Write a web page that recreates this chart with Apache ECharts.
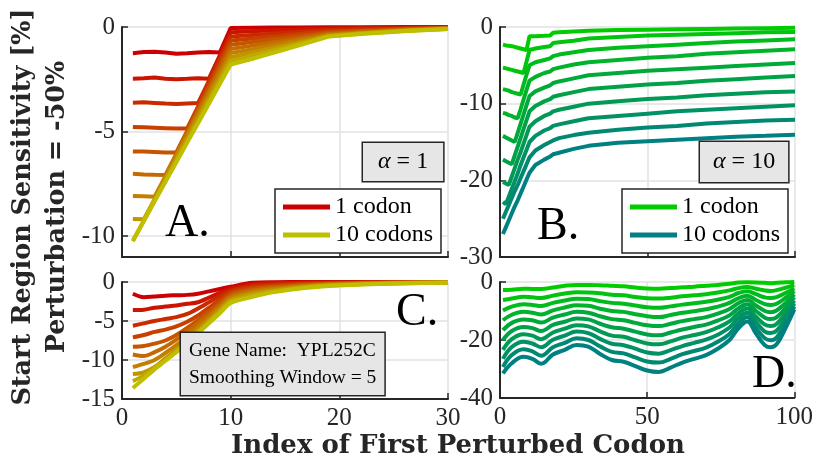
<!DOCTYPE html>
<html>
<head>
<meta charset="utf-8">
<script src="https://cdn.jsdelivr.net/npm/echarts@6/dist/echarts.min.js"></script>
<style>
  html, body { margin: 0; padding: 0; background: #fff; }
  #chart { width: 816px; height: 460px; }
</style>
</head>
<body>
<div id="chart"></div>
<script>
// panel A: alpha = 1, perturbation window of 1..10 codons
const codonsA = [1, 2, 3, 4, 5, 6, 7, 8, 9, 10, 12, 14, 16, 19, 22, 26, 30];
const sensA = [
  [-1.25, -1.2, -1.18, -1.22, -1.28, -1.26, -1.22, -1.2, -1.22, -0.05, -0.03, -0.02, -0.02, -0.01, -0.01, 0, 0],
  [-2.47, -2.45, -2.42, -2.47, -2.5, -2.48, -2.45, -2.47, -1.36, -0.25, -0.2, -0.16, -0.12, -0.07, -0.05, -0.03, -0.02],
  [-3.62, -3.6, -3.63, -3.66, -3.68, -3.66, -3.64, -2.58, -1.51, -0.45, -0.38, -0.31, -0.24, -0.14, -0.1, -0.06, -0.03],
  [-4.78, -4.8, -4.82, -4.84, -4.86, -4.85, -3.8, -2.75, -1.7, -0.65, -0.55, -0.45, -0.35, -0.21, -0.15, -0.09, -0.04],
  [-5.95, -5.96, -5.98, -6.0, -6.0, -4.97, -3.94, -2.91, -1.88, -0.85, -0.72, -0.59, -0.46, -0.27, -0.19, -0.11, -0.05],
  [-7.02, -7.05, -7.07, -7.08, -6.07, -5.07, -4.06, -3.06, -2.05, -1.05, -0.89, -0.73, -0.57, -0.33, -0.23, -0.13, -0.06],
  [-8.08, -8.1, -8.12, -7.14, -6.16, -5.18, -4.2, -3.21, -2.23, -1.25, -1.06, -0.86, -0.67, -0.38, -0.27, -0.15, -0.07],
  [-9.18, -9.2, -8.23, -7.26, -6.29, -5.33, -4.36, -3.39, -2.42, -1.45, -1.22, -0.99, -0.77, -0.42, -0.3, -0.17, -0.08],
  [-10.25, -9.29, -8.33, -7.37, -6.41, -5.46, -4.5, -3.54, -2.58, -1.62, -1.37, -1.1, -0.85, -0.44, -0.31, -0.18, -0.09],
  [-10.2, -9.27, -8.33, -7.4, -6.47, -5.53, -4.6, -3.67, -2.73, -1.8, -1.52, -1.22, -0.92, -0.46, -0.33, -0.2, -0.1]
];

// panel B: alpha = 10
const codonsB = [1, 2, 3, 4, 5, 6, 7, 8, 9, 10, 12, 15, 17, 18, 20, 25, 30, 40, 50, 60, 70, 80, 90, 100];
const sensB = [
  [-2.3, -2.4, -2.45, -2.5, -2.6, -2.7, -2.8, -2.9, -3.0, -1.2, -1.2, -1.15, -1.1, -0.75, -0.7, -0.6, -0.5, -0.4, -0.35, -0.3, -0.25, -0.2, -0.15, -0.1],
  [-5.3, -5.4, -5.5, -5.6, -5.7, -5.8, -5.9, -6.0, -4.5, -3.0, -2.8, -2.6, -2.5, -2.1, -2.0, -1.8, -1.5, -1.3, -1.1, -1.0, -0.9, -0.8, -0.7, -0.65],
  [-8.1, -8.2, -8.3, -8.5, -8.6, -8.7, -8.8, -7.5, -6.2, -5.0, -4.6, -4.3, -4.1, -3.8, -3.6, -3.3, -3.0, -2.7, -2.5, -2.3, -2.1, -1.9, -1.75, -1.6],
  [-11.2, -11.3, -11.5, -11.6, -11.8, -11.9, -10.7, -9.45, -8.2, -7.0, -6.5, -6.0, -5.8, -5.5, -5.3, -4.9, -4.6, -4.3, -4.0, -3.8, -3.5, -3.3, -3.1, -2.9],
  [-14.2, -14.4, -14.6, -14.8, -15.0, -13.8, -12.6, -11.4, -10.2, -9.0, -8.4, -7.9, -7.6, -7.3, -7.1, -6.7, -6.3, -6.0, -5.7, -5.5, -5.3, -5.1, -4.9, -4.7],
  [-17.3, -17.5, -17.7, -17.9, -16.75, -15.6, -14.45, -13.3, -12.15, -11.0, -10.3, -9.7, -9.4, -9.1, -8.9, -8.5, -8.1, -7.8, -7.5, -7.3, -7.0, -6.8, -6.6, -6.4],
  [-20.2, -20.4, -20.6, -19.5, -18.4, -17.3, -16.3, -15.2, -14.1, -13.0, -12.3, -11.6, -11.3, -11.0, -10.8, -10.4, -10.0, -9.7, -9.4, -9.2, -8.9, -8.7, -8.5, -8.4],
  [-22.8, -23.1, -22.1, -21.1, -20.1, -19.1, -18.0, -17.0, -16.0, -15.0, -14.2, -13.5, -13.2, -12.9, -12.7, -12.3, -11.9, -11.6, -11.3, -11.0, -10.8, -10.6, -10.4, -10.2],
  [-25.0, -24.1, -23.2, -22.3, -21.4, -20.6, -19.7, -18.8, -17.9, -17.0, -16.1, -15.4, -15.0, -14.8, -14.5, -14.1, -13.8, -13.4, -13.1, -12.9, -12.6, -12.4, -12.2, -12.1],
  [-27.0, -26.1, -25.2, -24.3, -23.4, -22.6, -21.7, -20.8, -19.9, -19.0, -18.0, -17.3, -16.9, -16.6, -16.4, -15.9, -15.5, -15.1, -14.9, -14.7, -14.5, -14.3, -14.2, -14.05]
];

// panel C: gene YPL252C, smoothing window 5, alpha = 1
const codonsC = [1, 2, 3, 4, 5, 6, 7, 8, 9, 10, 12, 14, 17, 20, 25, 30];
const sensC = [
  [-1.5, -1.95, -1.85, -1.75, -1.7, -1.65, -1.5, -1.2, -0.9, -0.6, -0.1, -0.02, 0, 0, 0, 0],
  [-3.6, -3.55, -3.3, -3.15, -3.0, -2.8, -2.6, -2.0, -1.4, -0.85, -0.3, -0.16, -0.08, -0.05, -0.02, -0.01],
  [-5.6, -5.3, -5.0, -4.75, -4.5, -4.1, -3.4, -2.6, -1.8, -1.1, -0.5, -0.3, -0.17, -0.1, -0.04, -0.02],
  [-7.1, -6.8, -6.4, -6.1, -5.7, -5.1, -4.3, -3.3, -2.3, -1.35, -0.7, -0.45, -0.25, -0.15, -0.07, -0.03],
  [-8.3, -8.2, -7.9, -7.5, -6.8, -5.9, -4.9, -3.8, -2.7, -1.6, -0.9, -0.6, -0.33, -0.2, -0.09, -0.04],
  [-9.3, -9.5, -9.0, -8.3, -7.4, -6.4, -5.3, -4.2, -3.0, -1.85, -1.1, -0.75, -0.42, -0.25, -0.11, -0.05],
  [-10.9, -10.5, -10.0, -9.1, -8.1, -7.0, -5.8, -4.6, -3.3, -2.1, -1.3, -0.9, -0.5, -0.3, -0.13, -0.06],
  [-11.8, -11.6, -10.9, -9.8, -8.7, -7.5, -6.2, -4.9, -3.6, -2.3, -1.5, -1.05, -0.58, -0.35, -0.15, -0.07],
  [-12.7, -12.0, -11.0, -10.0, -8.9, -7.7, -6.4, -5.1, -3.8, -2.5, -1.7, -1.18, -0.67, -0.4, -0.18, -0.08],
  [-13.6, -12.4, -11.2, -10.1, -9.0, -7.9, -6.6, -5.3, -4.0, -2.7, -1.9, -1.3, -0.75, -0.45, -0.2, -0.1]
];

// panel D: gene YPL252C, smoothing window 5, alpha = 10
const codonsD = [1, 4, 8, 11, 14, 18, 22, 26, 30, 34, 38, 42, 46, 50, 54, 58, 62, 66, 70, 74, 78, 81, 84, 87, 90, 92, 94, 97, 100];
const sensD = [
  [-2.8, -2.7, -2.3, -2.4, -2.4, -1.9, -1.3, -1.0, -1.0, -1.1, -1.3, -1.5, -1.9, -2.2, -2.3, -2.1, -1.8, -1.6, -1.3, -1.0, -0.6, -0.2, -0.1, -0.15, -0.3, -0.4, -0.3, -0.1, 0],
  [-6.2, -5.7, -5.1, -5.3, -5.5, -4.7, -4.0, -3.5, -3.6, -3.9, -4.4, -4.6, -5.2, -5.6, -5.7, -5.4, -4.9, -4.6, -4.2, -3.6, -2.9, -2.1, -1.7, -2.3, -2.9, -3.1, -2.8, -2.0, -1.1],
  [-9.8, -8.5, -7.7, -7.9, -8.3, -7.2, -6.4, -5.8, -5.9, -6.6, -7.2, -7.5, -8.1, -8.7, -8.9, -8.4, -7.8, -7.3, -6.8, -6.1, -5.1, -3.8, -3.2, -4.2, -5.3, -5.5, -5.2, -3.8, -2.2],
  [-13.2, -11.3, -10.3, -10.6, -11.2, -9.8, -8.8, -8.0, -8.2, -9.2, -10.0, -10.3, -11.1, -11.8, -12.1, -11.4, -10.6, -10.1, -9.4, -8.5, -7.2, -5.6, -4.7, -6.2, -7.6, -7.9, -7.5, -5.5, -3.2],
  [-16.6, -14.1, -12.9, -13.2, -14.0, -12.3, -11.2, -10.3, -10.6, -11.8, -12.8, -13.2, -14.1, -14.9, -15.2, -14.4, -13.5, -12.8, -12.1, -10.9, -9.3, -7.3, -6.2, -8.1, -10.0, -10.4, -9.8, -7.3, -4.3],
  [-20.0, -16.9, -15.5, -15.9, -16.9, -14.8, -13.7, -12.6, -12.9, -14.4, -15.6, -16.1, -17.1, -18.1, -18.4, -17.4, -16.4, -15.5, -14.7, -13.3, -11.5, -9.1, -7.7, -10.0, -12.3, -12.8, -12.2, -9.0, -5.3],
  [-23.4, -19.7, -18.0, -18.5, -19.7, -17.4, -16.1, -14.9, -15.3, -17.0, -18.5, -18.9, -20.1, -21.2, -21.5, -20.5, -19.2, -18.3, -17.3, -15.7, -13.6, -10.8, -9.1, -12.0, -14.7, -15.2, -14.5, -10.8, -6.4],
  [-26.5, -22.4, -20.6, -21.2, -22.5, -19.9, -18.5, -17.1, -17.6, -19.6, -21.3, -21.8, -23.0, -24.3, -24.7, -23.5, -22.1, -21.0, -19.9, -18.2, -15.7, -12.5, -10.6, -13.9, -17.1, -17.6, -16.8, -12.5, -7.4],
  [-29.3, -25.2, -23.2, -23.9, -25.4, -22.5, -21.0, -19.4, -20.0, -22.2, -24.1, -24.6, -26.0, -27.4, -27.8, -26.5, -24.9, -23.8, -22.6, -20.6, -17.9, -14.3, -12.1, -15.9, -19.4, -20.1, -19.2, -14.3, -8.5],
  [-31.5, -28.0, -25.8, -26.5, -28.2, -25.0, -23.4, -21.7, -22.3, -24.8, -26.9, -27.5, -29.0, -30.5, -31.0, -29.5, -27.8, -26.5, -25.2, -23.0, -20.0, -16.0, -13.6, -17.8, -21.8, -22.5, -21.5, -16.0, -9.5]
];

const legendNames = ['1 codon', '10 codons'];
const warmColors = ['#cc0000', '#cb1500', '#c92a00', '#c84000', '#c65500', '#c56a00', '#c37f00', '#c29500', '#c0aa00', '#bfbf00'];
const coolColors = ['#00cc00', '#00c40e', '#00bb1c', '#00b32b', '#00aa39', '#00a247', '#009955', '#009164', '#008872', '#008080'];

const ink = '#262626';
const serif = '"Liberation Serif", serif';

function makeSeries(idx, xs, rows, colors, prefix, smooth) {
  return rows.map((row, k) => ({
    name: prefix + (k + 1),
    type: 'line',
    xAxisIndex: idx,
    yAxisIndex: idx,
    data: row.map((v, i) => [xs[i], v]),
    symbol: 'none',
    smooth: smooth,
    silent: true,
    lineStyle: { width: 4, color: colors[k] },
    itemStyle: { color: colors[k] },
    emphasis: { disabled: true }
  }));
}

function makeAxis(idx, extra, showLabel) {
  return Object.assign({
    type: 'value',
    gridIndex: idx,
    axisLine: { onZero: false, lineStyle: { color: ink, width: 2 } },
    axisTick: { inside: true, length: 6, lineStyle: { color: ink, width: 1.5 } },
    splitLine: { show: true, lineStyle: { color: '#e2e2e2', width: 1.5 } },
    axisLabel: {
      show: showLabel, margin: 7,
      formatter: v => '{t|' + v + '}',
      rich: { t: { color: ink, fontFamily: serif, fontSize: 25 } }
    }
  }, extra);
}

const chart = echarts.init(document.getElementById('chart'));

function legendFor(prefix, left) {
  return {
    data: [prefix + '1', prefix + '10'],
    formatter: n => (n === prefix + '1' ? legendNames[0] : legendNames[1]),
    orient: 'vertical',
    left: left,
    top: 189,
    icon: 'rect',
    itemWidth: 47,
    itemHeight: 5,
    itemGap: 4,
    padding: [6, 8, 6, 8],
    backgroundColor: '#fff',
    borderColor: ink,
    borderWidth: 1.5,
    borderRadius: 0,
    selectedMode: false,
    textStyle: { fontFamily: serif, fontSize: 24, color: '#000' }
  };
}

const yTicksA = [-10, -5, 0];

chart.setOption({
  animation: false,
  backgroundColor: '#fff',
  textStyle: { fontFamily: serif },
  grid: [
    { left: 122, top: 27, width: 326, height: 230 },
    { left: 500, top: 27, width: 295, height: 230 },
    { left: 122, top: 282, width: 326, height: 117 },
    { left: 500, top: 282, width: 295, height: 116 }
  ],
  xAxis: [
    makeAxis(0, { min: 0, max: 30, interval: 10 }, false),
    makeAxis(1, { min: 0, max: 100, interval: 50 }, false),
    makeAxis(2, { min: 0, max: 30, interval: 10 }, true),
    makeAxis(3, { min: 0, max: 100, interval: 50 }, true)
  ],
  yAxis: [
    (() => {
      const a = makeAxis(0, { min: -11, max: 0 }, true);
      a.axisTick.customValues = yTicksA;
      a.axisLabel.customValues = yTicksA;
      return a;
    })(),
    makeAxis(1, { min: -30, max: 0, interval: 10 }, true),
    makeAxis(2, { min: -15, max: 0, interval: 5 }, true),
    makeAxis(3, { min: -40, max: 0, interval: 20 }, true)
  ],
  legend: [legendFor('A', 275), legendFor('B', 622)],
  series: [].concat(
    makeSeries(0, codonsA, sensA, warmColors, 'A', false),
    makeSeries(1, codonsB, sensB, coolColors, 'B', false),
    makeSeries(2, codonsC, sensC, warmColors, 'C', 0.3),
    makeSeries(3, codonsD, sensD, coolColors, 'D', 0.4)
  ),
  graphic: [
    {
      type: 'text', x: 40, y: 207, rotation: Math.PI / 2, z: 100,
      style: {
        text: 'Start Region Sensitivity [%]\nPerturbation = -50%',
        font: 'bold 25.5px "DejaVu Serif"', fill: ink,
        align: 'center', verticalAlign: 'middle', lineHeight: 34
      }
    },
    {
      type: 'text', x: 458, y: 446, z: 100,
      style: {
        text: 'Index of First Perturbed Codon',
        font: 'bold 26px "DejaVu Serif"', fill: ink,
        align: 'center', verticalAlign: 'middle'
      }
    },
    {
      type: 'text', x: 363, y: 143, z: 100,
      style: {
        text: '{a|α} = 1', font: '24px "Liberation Serif"', fill: '#000',
        backgroundColor: '#e6e6e6', borderColor: ink, borderWidth: 1.5, padding: [7, 15],
        rich: { a: { font: 'italic 24px "Liberation Serif"', fill: '#000' } }
      }
    },
    {
      type: 'text', x: 700, y: 142, z: 100,
      style: {
        text: '{a|α} = 10', font: '24px "Liberation Serif"', fill: '#000',
        backgroundColor: '#e6e6e6', borderColor: ink, borderWidth: 1.5, padding: [8, 13],
        rich: { a: { font: 'italic 24px "Liberation Serif"', fill: '#000' } }
      }
    },
    {
      type: 'text', x: 181, y: 333, z: 100,
      style: {
        text: 'Gene Name:  YPL252C\nSmoothing Window = 5', font: '19.5px "Liberation Serif"', fill: '#000',
        lineHeight: 27, backgroundColor: '#e6e6e6', borderColor: ink, borderWidth: 1.5, padding: [4, 8]
      }
    },
    { type: 'text', x: 165, y: 224, z: 100, style: { text: 'A.', font: '46px "Liberation Serif"', fill: '#000', verticalAlign: 'middle' } },
    { type: 'text', x: 537, y: 227, z: 100, style: { text: 'B.', font: '46px "Liberation Serif"', fill: '#000', verticalAlign: 'middle' } },
    { type: 'text', x: 396, y: 313, z: 100, style: { text: 'C.', font: '46px "Liberation Serif"', fill: '#000', verticalAlign: 'middle' } },
    { type: 'text', x: 752, y: 375, z: 100, style: { text: 'D.', font: '46px "Liberation Serif"', fill: '#000', verticalAlign: 'middle' } }
  ]
});
</script>
</body>
</html>
